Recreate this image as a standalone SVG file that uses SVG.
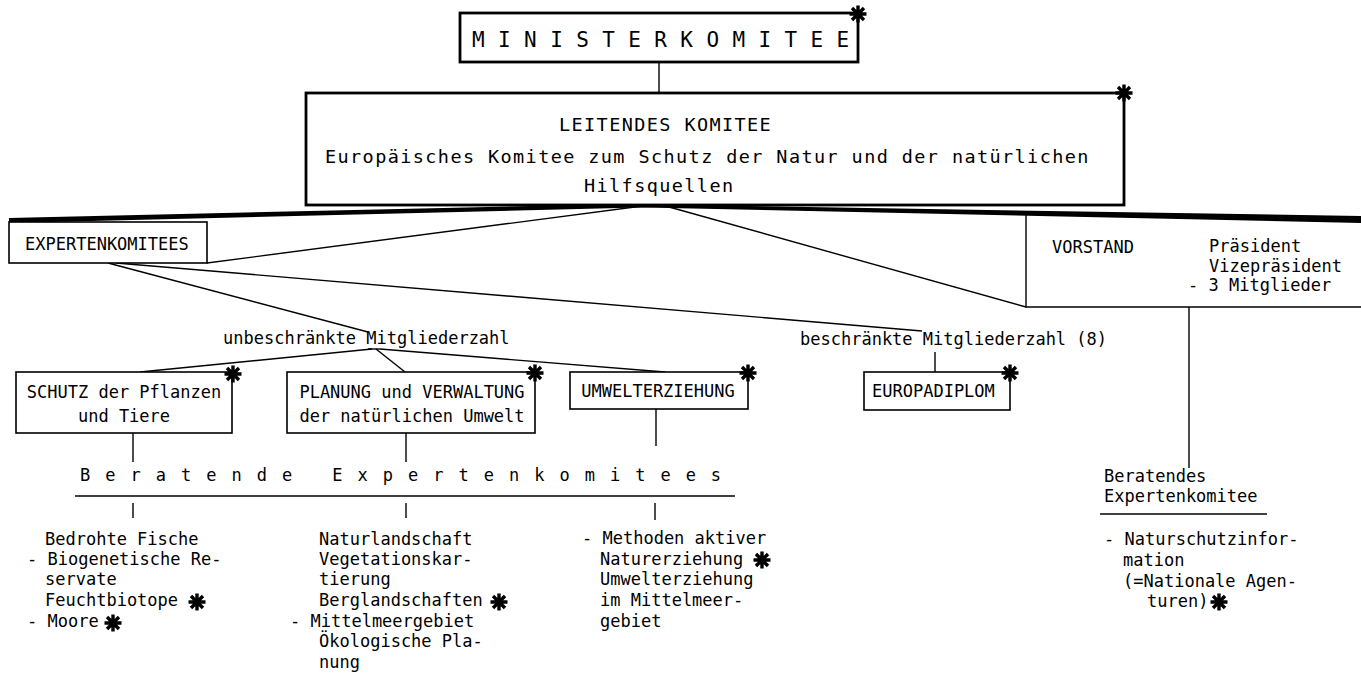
<svg xmlns="http://www.w3.org/2000/svg" width="1361" height="675" viewBox="0 0 1361 675">
<style>
text{font-family:"DejaVu Sans Mono","Liberation Mono",monospace;font-size:17px;fill:#000}
.lk{font-size:18.5px;letter-spacing:1.4px}
.box{fill:#fff;stroke:#000;stroke-width:1.6}
.big{fill:#fff;stroke:#000;stroke-width:2.8}
.ln{stroke:#000;stroke-width:1.4;fill:none}
.c{text-anchor:middle}
</style>
<defs>
<g id="star"><path d="M0,-8.5V8.5M-8.5,0H8.5M-6,-6L6,6M-6,6L6,-6" stroke="#000" stroke-width="3.4"/><circle r="4" fill="#000"/></g>
</defs>
<rect width="1361" height="675" fill="#fff"/>

<g id="connectors">
<line class="ln" x1="659" y1="62" x2="659" y2="93"/>
<polygon points="660,203 9,218 9,223 660,207" fill="#000"/>
<polygon points="620,204 1361,216 1361,223 620,207" fill="#000"/>
<line class="ln" x1="650" y1="205" x2="207" y2="263"/>
<line class="ln" x1="662" y1="205" x2="1026" y2="307"/>
<line class="ln" x1="108" y1="263" x2="368" y2="332"/>
<line class="ln" x1="116" y1="263" x2="922" y2="331"/>
<path class="ln" d="M368,349 L380,349"/>
<line class="ln" x1="372" y1="349" x2="140" y2="372"/>
<line class="ln" x1="376" y1="349" x2="405" y2="372"/>
<line class="ln" x1="380" y1="349" x2="665" y2="372"/>
<line class="ln" x1="935" y1="352" x2="935" y2="372"/>
<line class="ln" x1="133" y1="433" x2="133" y2="462"/>
<line class="ln" x1="406" y1="433" x2="406" y2="462"/>
<line class="ln" x1="656" y1="409" x2="656" y2="446"/>
<line class="ln" x1="1189" y1="307" x2="1189" y2="468"/>
<line class="ln" x1="75" y1="496" x2="735" y2="496"/>
<line class="ln" x1="133" y1="503" x2="133" y2="518"/>
<line class="ln" x1="406" y1="503" x2="406" y2="518"/>
<line class="ln" x1="655" y1="503" x2="655" y2="520"/>
<line class="ln" x1="1100" y1="514" x2="1267" y2="514"/>
</g>

<g id="ministerkomitee">
<rect class="big" x="460" y="13" width="398" height="49"/>
<text x="472" y="47" style="font-size:21px;letter-spacing:13.4px">MINISTERKOMITEE</text>
<use href="#star" x="858" y="14"/>
</g>

<g id="leitendes-komitee">
<rect class="big" x="306" y="93" width="818" height="112"/>
<text class="lk" x="559" y="131">LEITENDES KOMITEE</text>
<text class="lk" x="325" y="163">Europäisches Komitee zum Schutz der Natur und der natürlichen</text>
<text class="lk" x="584" y="192">Hilfsquellen</text>
<use href="#star" x="1124" y="93"/>
</g>

<g id="expertenkomitees">
<rect class="box" x="9" y="222" width="198" height="41"/>
<text x="25" y="250">EXPERTENKOMITEES</text>
</g>

<g id="vorstand">
<path class="ln" d="M1026,212 V307 H1361"/>
<text x="1052" y="253">VORSTAND</text>
<text x="1209" y="252">Präsident</text>
<text x="1209" y="272">Vizepräsident</text>
<text x="1188" y="291">- 3 Mitglieder</text>
</g>

<g id="unbeschraenkt">
<text x="223" y="344">unbeschränkte Mitgliederzahl</text>
</g>
<g id="beschraenkt">
<text x="800" y="345">beschränkte Mitgliederzahl (8)</text>
</g>

<g id="schutz">
<rect class="box" x="16" y="372" width="216" height="61"/>
<text class="c" x="124" y="398">SCHUTZ der Pflanzen</text>
<text class="c" x="124" y="422">und Tiere</text>
<use href="#star" x="233" y="374"/>
</g>

<g id="planung">
<rect class="box" x="287" y="372" width="248" height="61"/>
<text class="c" x="412" y="398">PLANUNG und VERWALTUNG</text>
<text class="c" x="412" y="422">der natürlichen Umwelt</text>
<use href="#star" x="535" y="373"/>
</g>

<g id="umwelterziehung">
<rect class="box" x="570" y="372" width="178" height="37"/>
<text class="c" x="658" y="397">UMWELTERZIEHUNG</text>
<use href="#star" x="748" y="373"/>
</g>

<g id="europadiplom">
<rect class="box" x="864" y="372" width="146" height="38"/>
<text x="872" y="397">EUROPADIPLOM</text>
<use href="#star" x="1010" y="373"/>
</g>

<g id="beratende-expertenkomitees">
<text x="80" y="481" style="letter-spacing:15px">Beratende Expertenkomitees</text>
</g>

<g id="liste-schutz">
<text x="45" y="545">Bedrohte Fische</text>
<text x="27" y="565">- Biogenetische Re-</text>
<text x="45" y="585">servate</text>
<text x="45" y="606">Feuchtbiotope</text>
<use href="#star" x="197" y="602"/>
<text x="27" y="627">- Moore</text>
<use href="#star" x="113" y="623"/>
</g>

<g id="liste-planung">
<text x="319" y="545">Naturlandschaft</text>
<text x="319" y="565">Vegetationskar-</text>
<text x="319" y="585">tierung</text>
<text x="319" y="606">Berglandschaften</text>
<use href="#star" x="499" y="602"/>
<text x="290" y="627">- Mittelmeergebiet</text>
<text x="319" y="647">Ökologische Pla-</text>
<text x="319" y="668">nung</text>
</g>

<g id="liste-umwelt">
<text x="582" y="544">- Methoden aktiver</text>
<text x="600" y="565">Naturerziehung</text>
<use href="#star" x="762" y="560"/>
<text x="600" y="585">Umwelterziehung</text>
<text x="600" y="606">im Mittelmeer-</text>
<text x="600" y="627">gebiet</text>
</g>

<g id="beratendes-expertenkomitee">
<text x="1104" y="482">Beratendes</text>
<text x="1104" y="502">Expertenkomitee</text>
<text x="1104" y="545">- Naturschutzinfor-</text>
<text x="1123" y="566">mation</text>
<text x="1123" y="587">(=Nationale Agen-</text>
<text x="1147" y="607">turen)</text>
<use href="#star" x="1219" y="602"/>
</g>
</svg>
